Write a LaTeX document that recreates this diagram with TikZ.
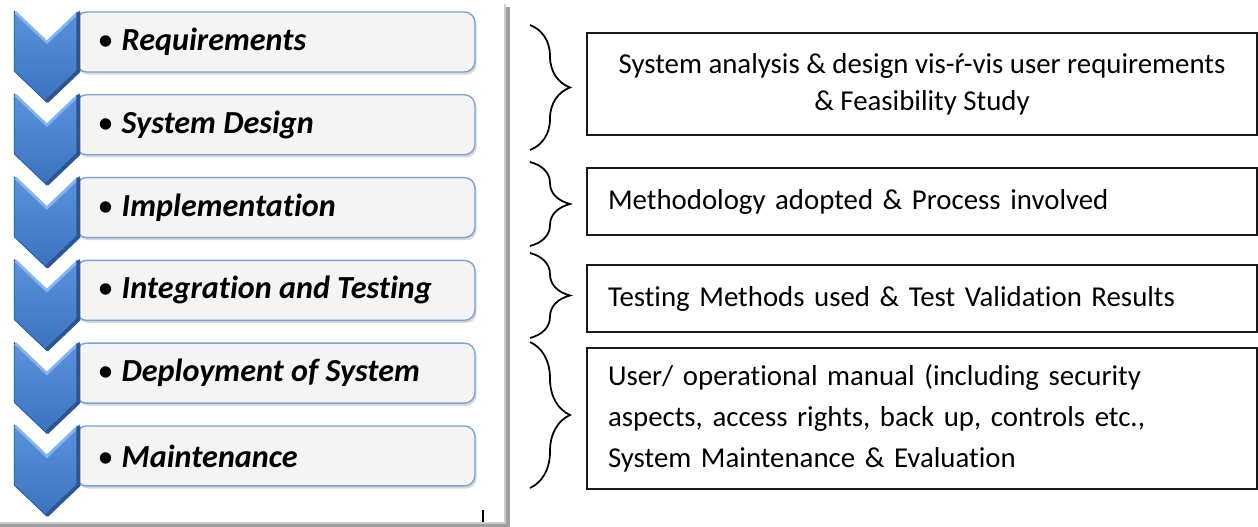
\documentclass[tikz,border=0pt]{standalone}
\usepackage{fontspec}
\setmainfont{Carlito}[Ligatures=NoCommon]
\usetikzlibrary{positioning, calc, shadows, decorations.pathreplacing}

\definecolor{chevlight}{HTML}{5A93DC}
\definecolor{chevmid}{HTML}{3B72BF}
\definecolor{chevdark}{HTML}{2A5698}
\definecolor{chevedge}{HTML}{85B4EC}
\definecolor{stageborder}{HTML}{7DA3D6}
\definecolor{stagefill}{HTML}{F4F4F4}

\begin{document}
\begin{tikzpicture}[x=0.02cm, y=-0.02cm]
  \newcommand\stagewidth{7.98cm}
  \newcommand\stageheight{1.2cm}
  \newcommand\stagegap{0.428cm} % space between two stages

  \tikzset{stagebox/.style={draw=stageborder, fill=stagefill, line width=0.8pt, rounded corners=6pt,
    minimum width=\stagewidth, minimum height=\stageheight, inner sep=0pt,
    drop shadow={shadow xshift=1pt, shadow yshift=-1.5pt, opacity=0.3}}}
  \tikzset{stagetext/.style={inner sep=0pt, font=\fontsize{18.3}{22}\selectfont\bfseries\itshape}}
  \tikzset{chevron/.style={top color=chevlight, bottom color=chevmid, draw=chevdark, line width=0.4pt}}
  \tikzset{chevtop/.style={chevedge, line width=1.6pt, line join=miter}}
  \tikzset{chevside/.style={chevdark, line width=2.2pt, line join=miter}}
  \tikzset{descbox/.style={draw=black!90, line width=1.2pt, minimum width=13.4cm}}
  \tikzset{curly/.style={decorate, decoration={brace, amplitude=0.8cm}, line width=1pt}}

  \newcommand\bul{{\mdseries\upshape •}\hspace{0.16cm}}

  \useasboundingbox (0,0) rectangle (1258,527);

  % frame of the left panel
  \draw[gray!75, line width=2pt] (0,526) -- (508,526) -- (508,7);
  \draw[gray!40, line width=1.2pt] (0,523) -- (505,523) -- (505,4);
  \draw[line width=0.9pt] (483,510) -- (483,522);

  % stages
  \node[stagebox] (st1) at (275.5,42) {};
  \node[stagetext, right=0.44cm of st1.west] (lb1) {\bul Requirements};
  \foreach \name [count=\prev from 1, evaluate=\prev as \cur using int(\prev+1)] in
    {System Design, Implementation, Integration and Testing, Deployment of System, Maintenance}{
    \node[stagebox, below=\stagegap of st\prev] (st\cur) {};
    \node[stagetext, right=0.44cm of st\cur.west] (lb\cur) {\bul \name};
  }

  \foreach \i in {1,...,6}{
    \coordinate (cv\i-a) at ($(st\i.north west)+(-61,0)$);
    \coordinate (cv\i-n) at ($(cv\i-a)+(32.5,31)$);
    \coordinate (cv\i-b) at ($(cv\i-a)+(65,0)$);
    \coordinate (cv\i-c) at ($(cv\i-b)+(0,60)$);
    \coordinate (cv\i-t) at ($(cv\i-n)+(0,60)$);
    \coordinate (cv\i-d) at ($(cv\i-a)+(0,60)$);
    \filldraw[chevron] (cv\i-a) -- (cv\i-n) -- (cv\i-b) -- (cv\i-c) -- (cv\i-t) -- (cv\i-d) -- cycle;
    \draw[chevtop] ($(cv\i-a)+(1,1)$) -- (cv\i-n) -- ($(cv\i-b)+(-1,1)$);
    \draw[chevside] ($(cv\i-b)+(-1,1)$) -- ($(cv\i-c)+(-1,0)$) -- ($(cv\i-t)+(0,-1)$);
  }

  % descriptions
  \node[descbox, inner sep=0pt, minimum height=2.04cm, align=center, font=\fontsize{16.4}{21}\selectfont] (ds1) at (922,84)
    {System analysis \& design vis-ŕ-vis user requirements\\\& Feasibility Study};
  \node[descbox, inner ysep=0pt, inner xsep=0.42cm, text width=12.56cm, minimum height=1.34cm, align=left, font=\fontsize{16.4}{21}\selectfont] (ds2) at (922,201.5)
    {Methodology adopted \& Process involved};
  \node[descbox, inner ysep=0pt, inner xsep=0.42cm, text width=12.56cm, minimum height=1.34cm, align=left, font=\fontsize{16.4}{21}\selectfont] (ds3) at (922,298.5)
    {Testing Methods used \& Test Validation Results};
  \node[descbox, inner ysep=0pt, inner xsep=0.42cm, text width=12.56cm, minimum height=2.82cm, align=left, font=\fontsize{16.4}{23.5}\selectfont] (ds4) at (922,418.5)
    {User/ operational manual (including security\\aspects, access rights, back up, controls etc.,\\System Maintenance \& Evaluation};

  % braces
  \coordinate (br1-top) at (530,25);
  \coordinate (br1-bot) at (530,150);
  \coordinate (br2-top) at (530,162);
  \coordinate (br2-bot) at (530,246);
  \coordinate (br3-top) at (530,253);
  \coordinate (br3-bot) at (530,338);
  \coordinate (br4-top) at (530,342);
  \coordinate (br4-bot) at (530,488);
  \foreach \i in {1,...,4}{
    \draw[curly] (br\i-top) -- (br\i-bot);
  }
\end{tikzpicture}
\end{document}
